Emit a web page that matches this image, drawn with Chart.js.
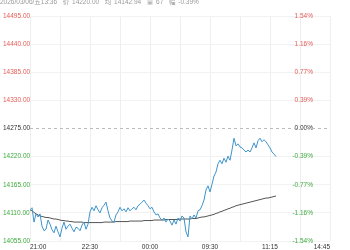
<!DOCTYPE html>
<html><head><meta charset="utf-8">
<script src="https://cdn.jsdelivr.net/npm/chart.js@4.4.0/dist/chart.umd.min.js"></script>
<style>
html,body{margin:0;padding:0;background:#fff;}
#wrap{position:relative;width:350px;height:250px;overflow:hidden;}
#hdr{position:absolute;left:0;top:-2px;font:6.5px "Liberation Sans","Noto Sans CJK SC",Arial,sans-serif;color:#999;white-space:pre;line-height:8px;word-spacing:1px;}
canvas{display:block}
</style></head><body>
<div id="wrap"><canvas id="c" width="350" height="250"></canvas><div id="hdr"></div></div>
<script>
// ---- data ----
const headerText = '2026/03/06/五13:36  价 14220.00  均 14142.94  量 67  幅 -0.39%';
const timeLabels = ['21:00','22:30','00:00','09:30','11:15','14:45'];
const totalSlots = 150;
const prevClose = 14275;
const yMin = 14055, yMax = 14495, yStep = 55;
const prices = [
14116,14120,14092,14108,14102,14108,14084,14075,14078,14096,
14088,14077,14071,14084,14073,14063,14080,14092,14078,14084,
14088,14080,14073,14082,14080,14075,14086,14092,14078,14088,
14112,14121,14114,14124,14116,14110,14120,14125,14131,14114,
14100,14094,14092,14106,14112,14121,14114,14118,14112,14120,
14114,14118,14121,14116,14124,14127,14131,14135,14129,14124,
14118,14121,14112,14106,14108,14100,14096,14100,14092,14098,
14094,14086,14096,14088,14100,14094,14104,14100,14073,14063,
14104,14098,14106,14100,14114,14116,14124,14135,14155,14163,
14151,14166,14182,14190,14206,14213,14206,14217,14209,14221,
14213,14233,14256,14241,14245,14239,14237,14233,14229,14233,
14229,14237,14247,14237,14251,14256,14249,14253,14249,14243,
14237,14229,14225,14220
];
const avgPrices = [
14116,14114,14111,14108,14106,14104,
14103,14102,14101,14101,
14100,14099,14098,14098,14097,
14096,14095,14095,14094,14094,
14093,14093,14092,14092,14092,14092,14092,14091,14091,14091,14091,14091,14091,14091,14091,
14091,14091,14092,14092,14092,14092,14092,14092,14093,14093,14093,14093,14093,14093,14093,14094,14094,14094,14094,14094,
14094,14094,14095,14095,14095,14095,14095,14096,14096,14096,14096,14096,14096,14097,14097,14097,14097,14097,14097,14097,14098,14098,14098,14098,14098,14098,14099,14099,14099,14100,
14101,14102,14102,14103,14104,14105,14106,14107,14109,14110,14112,14113,14115,14116,14118,14119,14121,14122,14124,14125,14126,14127,14128,14129,14130,14131,14132,14133,14134,14135,14136,14137,14138,14139,14139,14140,14141,14142,14142.94
];
// ---- chart ----
document.getElementById('hdr').textContent = headerText;
const FONT = {family:'"Liberation Sans","Noto Sans CJK SC",Arial,sans-serif', size:6.5};
const RED = '#e25b55', GREEN = '#3daa3d', DARK = '#333';
const colorFor = v => v > prevClose ? RED : (v < prevClose ? GREEN : DARK);
new Chart(document.getElementById('c'), {
  type:'line',
  data:{datasets:[
    {data:prices.map((p,i)=>({x:i,y:p})), borderColor:'#3d94cc', borderWidth:1, pointRadius:0, tension:0, yAxisID:'y'},
    {data:avgPrices.map((p,i)=>({x:i,y:p})), borderColor:'#555', borderWidth:1, pointRadius:0, tension:0, yAxisID:'y'},
    {data:[{x:0,y:prevClose},{x:totalSlots,y:prevClose}], borderColor:'#bbb', borderWidth:1, borderDash:[3,3], pointRadius:0, yAxisID:'y'}
  ]},
  options:{
    responsive:false, animation:false, events:[],
    layout:{padding:{left:3,right:3,top:16,bottom:0}},
    plugins:{legend:{display:false}, tooltip:{enabled:false}},
    scales:{
      x:{type:'linear', min:0, max:totalSlots,
        border:{display:false},
        grid:{color:'#eeeeee', drawTicks:false, lineWidth:1},
        afterFit:s=>{s.height=9;},
        ticks:{stepSize:15, autoSkip:false, maxRotation:0, align:'inner', padding:2, color:DARK, font:FONT,
          callback:v=> v%30===0 ? timeLabels[v/30] : ''}
      },
      y:{type:'linear', position:'left', min:yMin, max:yMax,
        border:{display:false},
        grid:{color:c=> c.tick && c.tick.value===prevClose ? 'rgba(0,0,0,0)' : '#f2f2f2', drawTicks:false},
        afterFit:s=>{s.width=27;},
        ticks:{stepSize:yStep, autoSkip:false, crossAlign:'far', padding:0, font:FONT,
          color:c=>colorFor(c.tick.value), callback:v=>v.toFixed(2)}
      },
      y2:{type:'linear', position:'right', min:yMin, max:yMax,
        border:{display:false}, grid:{display:false, drawTicks:false},
        afterFit:s=>{s.width=17;},
        ticks:{stepSize:yStep, autoSkip:false, mirror:true, crossAlign:'near', padding:-17, font:FONT,
          color:c=>colorFor(c.tick.value),
          callback:v=>{const p=(v-prevClose)/prevClose*100; return (Math.abs(p)<0.005?0:p).toFixed(2)+'%';}}
      }
    }
  }
});
</script>
</body></html>
